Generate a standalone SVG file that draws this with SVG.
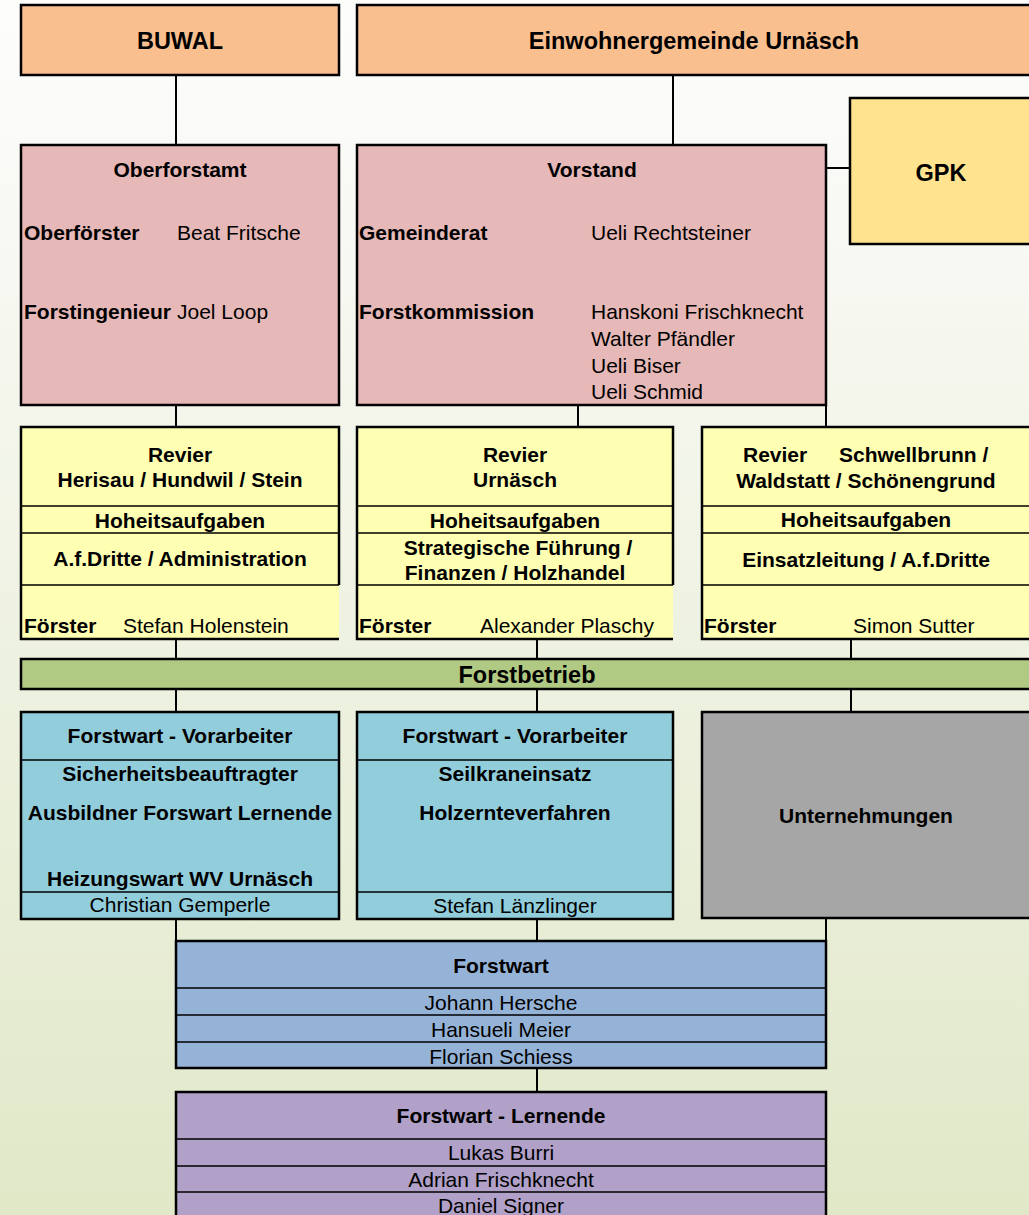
<svg xmlns="http://www.w3.org/2000/svg" width="1029" height="1215" viewBox="0 0 1029 1215">
<defs>
<linearGradient id="bg" x1="0" y1="0" x2="0" y2="1">
<stop offset="0" stop-color="#FDFDFC"/>
<stop offset="0.15" stop-color="#F9FAF6"/>
<stop offset="1" stop-color="#E1E8C8"/>
</linearGradient>
</defs>
<style>
text{font-family:"Liberation Sans",Arial,sans-serif;font-size:21px;fill:#000}
.b{font-weight:bold}
.big{font-weight:bold;font-size:23.5px}
.c{text-anchor:middle}
.box{stroke:#000;stroke-width:2.5}
.edge{fill:none;stroke:#000;stroke-width:2.5}
.div{stroke:#000;stroke-width:1.5;fill:none}
.con{stroke:#000;stroke-width:2;fill:none}
.peach{fill:#F9BF8F}
.pink{fill:#E6B8B7}
.gpk{fill:#FFE38E}
.yel{fill:#FFFFB3}
.green{fill:#B1CA83}
.cyan{fill:#92CDDC}
.gray{fill:#A6A6A6}
.blue{fill:#95B3D7}
.purple{fill:#B1A0C7}
</style>
<rect x="0" y="0" width="1029" height="1215" fill="url(#bg)"/>

<g id="connectors">
<path class="con" d="M176,75V145 M673,75V145 M826,168H850 M176,405V427 M578,405V427 M826,405V427 M176,639V659 M537,639V659 M851,639V659 M176,689V712 M537,689V712 M851,689V712 M176,919V941 M537,919V941 M826,918V941 M537,1068V1092"/>
</g>

<g id="buwal">
<rect class="box peach" x="21" y="5" width="318" height="70"/>
<text class="big c" x="180" y="49">BUWAL</text>
</g>

<g id="einwohnergemeinde">
<rect class="box peach" x="357" y="5" width="675" height="70"/>
<text class="big c" x="694" y="49">Einwohnergemeinde Urnäsch</text>
</g>

<g id="oberforstamt">
<rect class="box pink" x="21" y="145" width="318" height="260"/>
<text class="b c" x="180" y="177">Oberforstamt</text>
<text class="b" x="24" y="240">Oberförster</text>
<text x="177" y="240">Beat Fritsche</text>
<text class="b" x="24" y="319">Forstingenieur</text>
<text x="177" y="319">Joel Loop</text>
</g>

<g id="vorstand">
<rect class="box pink" x="357" y="145" width="469" height="260"/>
<text class="b c" x="592" y="177">Vorstand</text>
<text class="b" x="359" y="240">Gemeinderat</text>
<text x="591" y="240">Ueli Rechtsteiner</text>
<text class="b" x="359" y="319">Forstkommission</text>
<text x="591" y="319">Hanskoni Frischknecht</text>
<text x="591" y="346">Walter Pfändler</text>
<text x="591" y="373">Ueli Biser</text>
<text x="591" y="399">Ueli Schmid</text>
</g>

<g id="gpk">
<rect class="box gpk" x="850" y="98" width="182" height="146"/>
<text class="big c" x="941" y="181">GPK</text>
</g>

<g id="revier1">
<rect class="yel" x="21" y="427" width="318" height="212"/>
<path class="edge" d="M339,585V427H21V639H339"/>
<path class="div" d="M21,506H339 M21,533H339 M21,585H339"/>
<text class="b c" x="180" y="462">Revier</text>
<text class="b c" x="180" y="487">Herisau / Hundwil / Stein</text>
<text class="b c" x="180" y="528">Hoheitsaufgaben</text>
<text class="b c" x="180" y="566">A.f.Dritte / Administration</text>
<text class="b" x="24" y="633">Förster</text>
<text x="123" y="633">Stefan Holenstein</text>
</g>

<g id="revier2">
<rect class="yel" x="357" y="427" width="316" height="212"/>
<path class="edge" d="M673,585V427H357V639H673"/>
<path class="div" d="M357,506H673 M357,533H673 M357,585H673"/>
<text class="b c" x="515" y="462">Revier</text>
<text class="b c" x="515" y="487">Urnäsch</text>
<text class="b c" x="515" y="528">Hoheitsaufgaben</text>
<text class="b c" x="518" y="555">Strategische Führung /</text>
<text class="b c" x="515" y="580">Finanzen / Holzhandel</text>
<text class="b" x="359" y="633">Förster</text>
<text x="480" y="633">Alexander Plaschy</text>
</g>

<g id="revier3">
<rect class="box yel" x="702" y="427" width="330" height="212"/>
<path class="div" d="M702,506H1032 M702,533H1032 M702,585H1032"/>
<text class="b" x="743" y="462">Revier</text>
<text class="b" x="839" y="462">Schwellbrunn /</text>
<text class="b c" x="866" y="488">Waldstatt / Schönengrund</text>
<text class="b c" x="866" y="527">Hoheitsaufgaben</text>
<text class="b c" x="866" y="567">Einsatzleitung / A.f.Dritte</text>
<text class="b" x="704" y="633">Förster</text>
<text x="853" y="633">Simon Sutter</text>
</g>

<g id="forstbetrieb">
<rect class="box green" x="21" y="659" width="1011" height="30"/>
<text class="big c" x="527" y="683">Forstbetrieb</text>
</g>

<g id="vorarbeiter1">
<rect class="box cyan" x="21" y="712" width="318" height="207"/>
<path class="div" d="M21,760H339 M21,892H339"/>
<text class="b c" x="180" y="743">Forstwart - Vorarbeiter</text>
<text class="b c" x="180" y="781">Sicherheitsbeauftragter</text>
<text class="b c" x="180" y="820">Ausbildner Forswart Lernende</text>
<text class="b c" x="180" y="886">Heizungswart WV Urnäsch</text>
<text class="c" x="180" y="912">Christian Gemperle</text>
</g>

<g id="vorarbeiter2">
<rect class="box cyan" x="357" y="712" width="316" height="207"/>
<path class="div" d="M357,760H673 M357,892H673"/>
<text class="b c" x="515" y="743">Forstwart - Vorarbeiter</text>
<text class="b c" x="515" y="781">Seilkraneinsatz</text>
<text class="b c" x="515" y="820">Holzernteverfahren</text>
<text class="c" x="515" y="913">Stefan Länzlinger</text>
</g>

<g id="unternehmungen">
<rect class="box gray" x="702" y="712" width="330" height="206"/>
<text class="b c" x="866" y="823">Unternehmungen</text>
</g>

<g id="forstwart">
<rect class="box blue" x="176" y="941" width="650" height="127"/>
<path class="div" d="M176,988H826 M176,1015H826 M176,1042H826"/>
<text class="b c" x="501" y="973">Forstwart</text>
<text class="c" x="501" y="1010">Johann Hersche</text>
<text class="c" x="501" y="1037">Hansueli Meier</text>
<text class="c" x="501" y="1064">Florian Schiess</text>
</g>

<g id="lernende">
<rect class="box purple" x="176" y="1092" width="650" height="140"/>
<path class="div" d="M176,1139H826 M176,1166H826 M176,1192H826"/>
<text class="b c" x="501" y="1123">Forstwart - Lernende</text>
<text class="c" x="501" y="1160">Lukas Burri</text>
<text class="c" x="501" y="1187">Adrian Frischknecht</text>
<text class="c" x="501" y="1213">Daniel Signer</text>
</g>
</svg>
